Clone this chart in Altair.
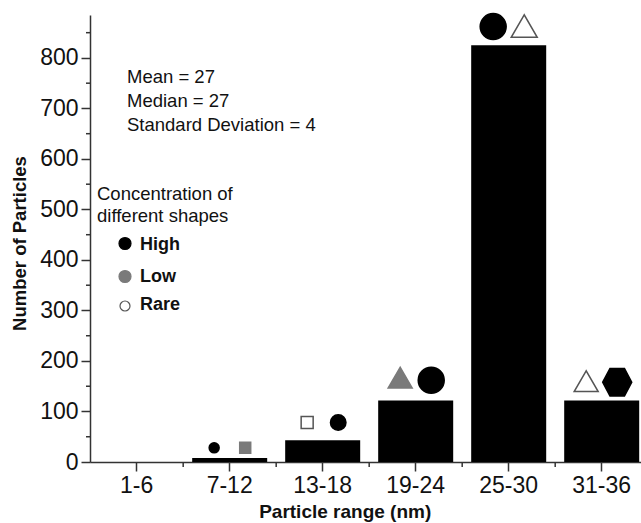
import altair as alt
import pandas as pd

# ---------------- data ----------------
categories = ["1-6", "7-12", "13-18", "19-24", "25-30", "31-36"]
counts = [0, 8, 43, 122, 825, 122]

# shapes drawn above the bars: shape, concentration level, height (in counts)
sym_ranges = ["7-12", "13-18", "19-24", "25-30", "31-36"]
left_shapes = ["circle", "square", "triangle", "circle", "triangle"]
left_levels = ["High", "Rare", "Low", "High", "Rare"]
left_heights = [28, 78, 167, 862, 160]
right_shapes = ["square", "circle", "circle", "triangle", "hexagon"]
right_levels = ["Low", "High", "High", "Rare", "High"]
right_heights = [28, 78, 162, 863, 158]

stats_lines = ["Mean = 27", "Median = 27", "Standard Deviation = 4"]
legend_title = ["Concentration of", "different shapes"]
levels = ["High", "Low", "Rare"]

y_ticks = [0, 100, 200, 300, 400, 500, 600, 700, 800]
y_minor = [50, 150, 250, 350, 450, 550, 650, 750, 850]

# ---------------- styles ----------------
FONT = "Liberation Sans"
INK = "#111111"
AX = "#333333"
level_fill = {"High": "#000000", "Low": "#7a7a7a", "Rare": "#ffffff"}
level_stroke = {"High": "#000000", "Low": "#7a7a7a", "Rare": "#555555"}
shape_path = {
    "circle": "circle",
    "square": "square",
    "triangle": "triangle-up",
    "hexagon": "M-1,0L-0.5,-0.95L0.5,-0.95L1,0L0.5,0.95L-0.5,0.95Z",
}
left_diam = [10, 12, 24, 26, 24]
right_diam = [11, 15.5, 26, 26, 29]

W, H = 551, 447

x_scale = alt.Scale(domain=categories, paddingInner=0.1935, paddingOuter=0.059, align=0.836)
x_axis = alt.Axis(
    title="Particle range (nm)", labelAngle=0, labelFont=FONT, labelFontSize=23,
    labelColor=INK, labelPadding=3, tickSize=9, tickWidth=1.5, tickColor=AX,
    domainColor=AX, domainWidth=1.5, titleFont=FONT, titleFontSize=19,
    titleFontWeight="bold", titleColor=INK, titleX=254.7, titleY=55.5,
    titleAlign="center", titleBaseline="alphabetic", grid=False,
)
y_scale = alt.Scale(domain=[0, 885], nice=False, zero=True)
y_axis = alt.Axis(
    title="Number of Particles", values=y_ticks, labelFont=FONT, labelFontSize=23,
    labelColor=INK, labelPadding=3, tickSize=9, tickWidth=1.5, tickColor=AX,
    domainColor=AX, domainWidth=1.5, titleFont=FONT, titleFontSize=18.5,
    titleFontWeight="bold", titleColor=INK, titleX=-65, titleY=228,
    titleAlign="center", titleBaseline="alphabetic", titleAngle=270, grid=False,
)


def X(**kw):
    return alt.X("range:N", scale=x_scale, axis=x_axis, sort=categories, **kw)


def Y():
    return alt.Y("n:Q", scale=y_scale, axis=y_axis)


bars_df = pd.DataFrame({"range": categories, "n": counts})
bars = alt.Chart(bars_df).mark_bar(color="black").encode(x=X(), y=Y())


def sym_df(shapes, lvls, heights, diams):
    return pd.DataFrame({
        "range": sym_ranges,
        "n": heights,
        "shp": [shape_path[s] for s in shapes],
        "fillc": [level_fill[l] for l in lvls],
        "strokec": [level_stroke[l] for l in lvls],
        "sz": [d * d for d in diams],
    })


def sym_layer(df, pos):
    return alt.Chart(df).mark_point(filled=True, opacity=1, strokeWidth=1.5).encode(
        x=X(bandPosition=pos),
        y=Y(),
        shape=alt.Shape("shp:N", scale=None),
        fill=alt.Fill("fillc:N", scale=None),
        stroke=alt.Stroke("strokec:N", scale=None),
        size=alt.Size("sz:Q", scale=None),
    )


left_sym = sym_layer(sym_df(left_shapes, left_levels, left_heights, left_diam), 0.293)
right_sym = sym_layer(sym_df(right_shapes, right_levels, right_heights, right_diam), 0.707)

# minor ticks on the y axis
ymin_df = pd.DataFrame({"n": y_minor})
y_minor_ticks = alt.Chart(ymin_df).mark_rule(color=AX, strokeWidth=1.5).encode(
    y=Y(), x=alt.value(-4), x2=alt.value(0)
)

# minor ticks between categories on the x axis (half the gap after each band)
xmin_df = pd.DataFrame({"range": categories[:-1]})
x_minor_ticks = alt.Chart(xmin_df).mark_rule(color=AX, strokeWidth=1.5, xOffset=9).encode(
    x=X(bandPosition=1), y=alt.value(H), y2=alt.value(H + 5)
)

one = pd.DataFrame({"a": [0]})
stats_text = alt.Chart(one).mark_text(
    text=stats_lines, align="left", baseline="alphabetic", font=FONT,
    fontSize=18.5, lineHeight=24, color=INK,
).encode(x=alt.value(37), y=alt.value(67.7))

legend_head = alt.Chart(one).mark_text(
    text=legend_title, align="left", baseline="alphabetic", font=FONT,
    fontSize=18.5, lineHeight=21.7, color=INK,
).encode(x=alt.value(7), y=alt.value(185))

legend_layers = []
leg_text_y = [235, 266.7, 295]
leg_sym_y = [228.5, 261.5, 291]
leg_diam = [12, 12, 10]
for lvl, ty, sy, d in zip(levels, leg_text_y, leg_sym_y, leg_diam):
    legend_layers.append(
        alt.Chart(one).mark_point(
            shape="circle", filled=True, opacity=1, fill=level_fill[lvl],
            stroke=level_stroke[lvl], strokeWidth=1.2, size=d * d,
        ).encode(x=alt.value(35), y=alt.value(sy))
    )
    legend_layers.append(
        alt.Chart(one).mark_text(
            text=lvl, align="left", baseline="alphabetic", font=FONT,
            fontSize=18, fontWeight="bold", color=INK,
        ).encode(x=alt.value(50), y=alt.value(ty))
    )

chart = alt.layer(
    bars, y_minor_ticks, x_minor_ticks, left_sym, right_sym,
    stats_text, legend_head, *legend_layers,
).properties(
    width=W, height=H,
    autosize=alt.AutoSizeParams(type="none"),
    padding={"left": 90, "top": 15, "right": 0, "bottom": 61},
    background="white",
).configure_view(stroke=None)

chart.save("out.html", embed_options={"renderer": "svg", "actions": False})
